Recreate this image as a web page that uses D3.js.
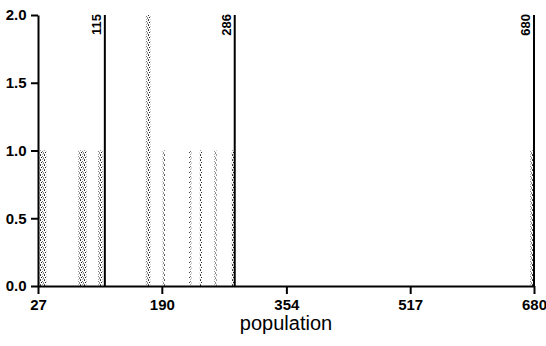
<!DOCTYPE html>
<html>
<head>
<meta charset="utf-8">
<script src="https://cdn.jsdelivr.net/npm/d3@7"></script>
<style>
  body { margin: 0; background: #fff; }
  svg { display: block; }
  text { font-family: "Liberation Sans", Arial, sans-serif; }
</style>
</head>
<body>
<svg width="546" height="346"></svg>
<script>
// histogram bins
const binStart = [29, 80, 106, 169, 191, 226, 240, 259, 282, 675];
const binEnd   = [38, 91, 112, 175, 194, 229, 243, 262, 286, 680];
const counts   = [1, 1, 1, 2, 1, 1, 1, 1, 1, 1];

// vertical reference lines
const markers = [115, 286, 680];

const xTicks = [27, 190, 354, 517, 680];
const yTicks = [0, 0.5, 1.0, 1.5, 2.0];

const svg = d3.select('svg');

const x = d3.scaleLinear().domain([27, 680]).range([38, 534]);
const y = d3.scaleLinear().domain([0, 2]).range([286, 15]);

// stipple texture for the bars
const defs = svg.append('defs');
const pat = defs.append('pattern')
  .attr('id', 'stip')
  .attr('patternUnits', 'userSpaceOnUse')
  .attr('width', 4)
  .attr('height', 5);
[[0, 0, '#333'], [2, 1, '#777'], [1, 2, '#222'], [3, 2, '#999'], [3, 3, '#888'], [0, 4, '#555'], [2, 4, '#aaa']]
  .forEach(([px, py, c]) => {
    pat.append('rect').attr('x', px).attr('y', py).attr('width', 1).attr('height', 1).attr('fill', c);
  });

const bins = binStart.map((s, i) => ({ x0: s, x1: binEnd[i], n: counts[i] }));

svg.append('g')
  .selectAll('rect')
  .data(bins)
  .enter().append('rect')
  .attr('x', d => x(d.x0))
  .attr('y', d => y(d.n))
  .attr('width', d => Math.max(2, x(d.x1) - x(d.x0)))
  .attr('height', d => y(0) - y(d.n))
  .attr('fill', 'url(#stip)');

// marker lines with rotated labels
const mk = svg.append('g');
mk.selectAll('line')
  .data(markers)
  .enter().append('line')
  .attr('x1', d => x(d)).attr('x2', d => x(d))
  .attr('y1', y(2)).attr('y2', y(0))
  .attr('stroke', '#000')
  .attr('stroke-width', 2);

mk.selectAll('text')
  .data(markers)
  .enter().append('text')
  .attr('transform', d => `translate(${x(d) - 4},${y(2) - 1}) rotate(-90)`)
  .attr('text-anchor', 'end')
  .attr('font-size', 13)
  .attr('font-weight', 'bold')
  .text(d => d);

// axes
const xAxis = svg.append('g')
  .attr('transform', `translate(0,${y(0)})`)
  .call(d3.axisBottom(x).tickValues(xTicks).tickFormat(d3.format('d')).tickSize(8).tickSizeOuter(0));

const yAxis = svg.append('g')
  .attr('transform', `translate(${x(27)},0)`)
  .call(d3.axisLeft(y).tickValues(yTicks).tickFormat(d3.format('.1f')).tickSize(7).tickSizeOuter(0));

[xAxis, yAxis].forEach(a => {
  a.select('.domain').attr('stroke', '#000').attr('stroke-width', 2);
  a.selectAll('.tick line').attr('stroke', '#000').attr('stroke-width', 2);
  a.selectAll('.tick text')
    .attr('fill', '#000')
    .attr('font-family', '"Liberation Sans", Arial, sans-serif')
    .attr('font-size', 15)
    .attr('font-weight', 'bold');
});
xAxis.selectAll('.tick text').attr('dy', '0.85em');
yAxis.selectAll('.tick text').attr('dx', '-0.1em');

svg.append('text')
  .attr('x', (x(27) + x(680)) / 2)
  .attr('y', 330)
  .attr('text-anchor', 'middle')
  .attr('font-size', 20)
  .text('population');
</script>
</body>
</html>
